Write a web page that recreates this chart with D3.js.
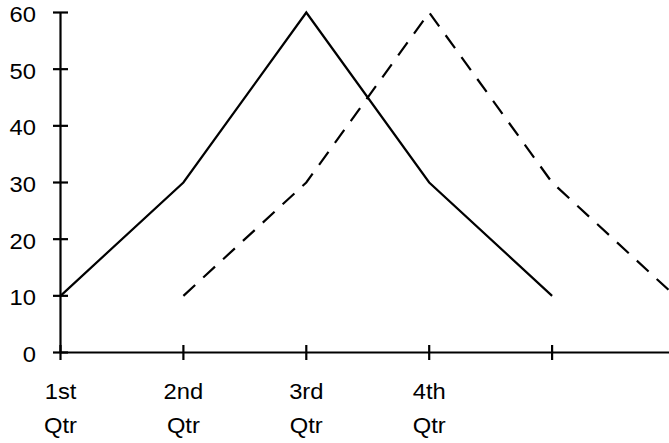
<!DOCTYPE html>
<html>
<head>
<meta charset="utf-8">
<script src="https://cdn.jsdelivr.net/npm/d3@7"></script>
<style>
  html, body { margin: 0; padding: 0; background: #fff; }
  svg { display: block; }
  text { font-family: "Liberation Sans", Arial, sans-serif; fill: #000; }
</style>
</head>
<body>
<svg id="chart" width="669" height="443"></svg>
<script>
// ---- data ----
const categories = ["1st Qtr", "2nd Qtr", "3rd Qtr", "4th Qtr", "", ""];
const seriesSolid = [10, 30, 60, 30, 10, null];
const seriesDashed = [null, 10, 30, 60, 30, 10];
const yTicks = [0, 10, 20, 30, 40, 50, 60];

// ---- layout ----
const W = 669, H = 443;
const x0 = 60.5, step = 122.9;
const sx = 1.08;
const svg = d3.select("#chart");

const x = d3.scalePoint()
  .domain(d3.range(categories.length))
  .range([x0, x0 + step * (categories.length - 1)]);
const y = d3.scaleLinear().domain([0, 60]).range([352.5, 12.5]);

// y axis
const yAxisG = svg.append("g");
yAxisG.append("line")
  .attr("x1", x0).attr("x2", x0)
  .attr("y1", y(60)).attr("y2", y(0))
  .attr("stroke", "#000").attr("stroke-width", 2.2);
yAxisG.selectAll("line.tick").data(yTicks).enter().append("line")
  .attr("class", "tick")
  .attr("x1", x0 - 7.5).attr("x2", x0 + 7.5)
  .attr("y1", d => y(d)).attr("y2", d => y(d))
  .attr("stroke", "#000").attr("stroke-width", 2.2);
yAxisG.selectAll("text").data(yTicks).enter().append("text")
  .attr("transform", d => `translate(36,${y(d) + 1.5}) scale(${sx},1)`)
  .attr("dy", "0.36em")
  .attr("text-anchor", "end")
  .attr("font-size", 22)
  .text(d => d);

// x axis
const xAxisG = svg.append("g");
xAxisG.append("line")
  .attr("x1", x0).attr("x2", W + 5)
  .attr("y1", y(0)).attr("y2", y(0))
  .attr("stroke", "#000").attr("stroke-width", 2.2);
xAxisG.selectAll("line.tick").data(d3.range(categories.length)).enter().append("line")
  .attr("class", "tick")
  .attr("x1", d => x(d)).attr("x2", d => x(d))
  .attr("y1", y(0) - 7.5).attr("y2", y(0) + 7.5)
  .attr("stroke", "#000").attr("stroke-width", 2.2);
const lbl = xAxisG.selectAll("text").data(categories.map((c, i) => ({c, i}))).enter().append("text")
  .attr("transform", d => `translate(${x(d.i)},0) scale(${sx},1)`)
  .attr("text-anchor", "middle")
  .attr("font-size", 22);
lbl.each(function(d) {
  const parts = d.c.split(" ");
  const t = d3.select(this);
  parts.forEach((p, k) => {
    t.append("tspan").attr("x", 0).attr("y", 391 + k * 34).attr("dy", "0.36em").text(p);
  });
});

// lines
const line = d3.line()
  .defined(d => d.v != null)
  .x(d => x(d.i)).y(d => y(d.v));
svg.append("path")
  .datum(seriesSolid.map((v, i) => ({v, i})))
  .attr("d", line)
  .attr("fill", "none").attr("stroke", "#000").attr("stroke-width", 2.2)
  .attr("stroke-linejoin", "miter");
svg.append("path")
  .datum(seriesDashed.map((v, i) => ({v, i})))
  .attr("d", line)
  .attr("fill", "none").attr("stroke", "#000").attr("stroke-width", 2.2)
  .attr("stroke-dasharray", "16,11");
</script>
</body>
</html>
